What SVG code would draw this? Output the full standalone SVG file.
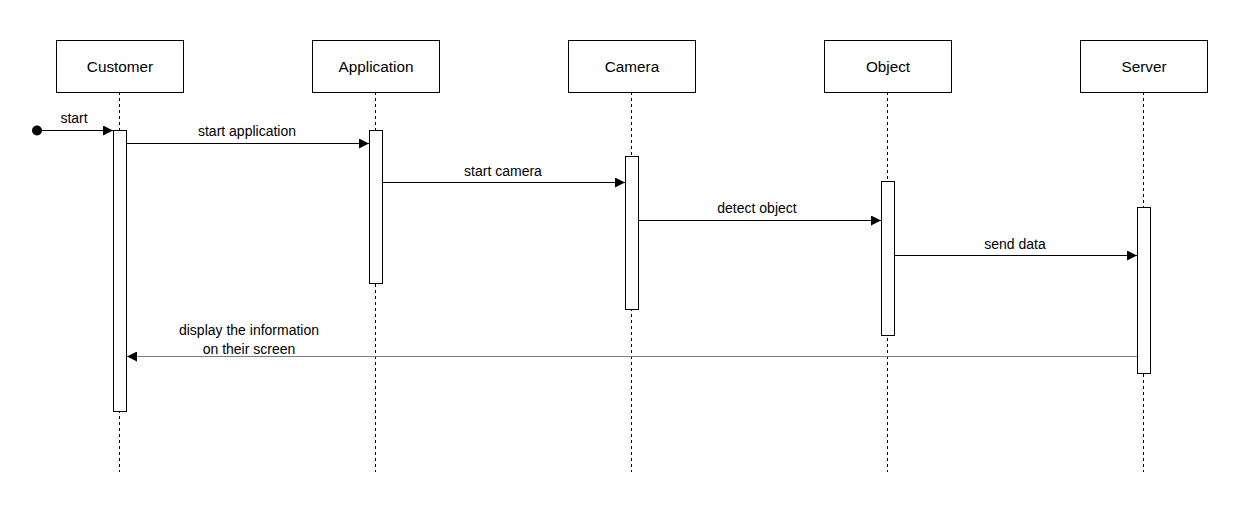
<svg xmlns="http://www.w3.org/2000/svg" width="1257" height="511" viewBox="0 0 1257 511">
  <defs>
    <style>
      .box { fill: #ffffff; stroke: #000000; stroke-width: 1; }
      .life { stroke: #000000; stroke-width: 1; stroke-dasharray: 3 3; fill: none; }
      .act { fill: #ffffff; stroke: #000000; stroke-width: 1; }
      .msg { stroke: #000000; stroke-width: 1; fill: none; marker-end: url(#arrow); }
      .ret { stroke: #808080; stroke-width: 1; fill: none; marker-end: url(#arrow); }
      text { font-family: "Liberation Sans", Arial, sans-serif; font-size: 14px; fill: #000000; text-anchor: middle; }
      text.name { font-size: 15.3px; }
    </style>
    <marker id="arrow" viewBox="0 0 10 10" refX="10" refY="5" markerWidth="10" markerHeight="10" markerUnits="userSpaceOnUse" orient="auto">
      <path d="M0,0 L10,5 L0,10 Z" fill="#000000"/>
    </marker>
  </defs>

  <!-- lifelines -->
  <g id="lifelines">
    <line class="life" x1="119.5" y1="92" x2="119.5" y2="472"/>
    <line class="life" x1="375.5" y1="92" x2="375.5" y2="472"/>
    <line class="life" x1="631.5" y1="92" x2="631.5" y2="472"/>
    <line class="life" x1="887.5" y1="92" x2="887.5" y2="472"/>
    <line class="life" x1="1143.5" y1="92" x2="1143.5" y2="472"/>
  </g>

  <!-- participants -->
  <g id="customer">
    <rect class="box" x="56.5" y="40.5" width="127" height="52"/>
    <text class="name" x="120" y="72">Customer</text>
    <rect class="act" x="113.5" y="130.5" width="13" height="281"/>
  </g>
  <g id="application">
    <rect class="box" x="312.5" y="40.5" width="127" height="52"/>
    <text class="name" x="376" y="72">Application</text>
    <rect class="act" x="369.5" y="130.5" width="13" height="153"/>
  </g>
  <g id="camera">
    <rect class="box" x="568.5" y="40.5" width="127" height="52"/>
    <text class="name" x="632" y="72">Camera</text>
    <rect class="act" x="625.5" y="156.5" width="13" height="153"/>
  </g>
  <g id="object">
    <rect class="box" x="824.5" y="40.5" width="127" height="52"/>
    <text class="name" x="888" y="72">Object</text>
    <rect class="act" x="881.5" y="181.5" width="13" height="154"/>
  </g>
  <g id="server">
    <rect class="box" x="1080.5" y="40.5" width="127" height="52"/>
    <text class="name" x="1144" y="72">Server</text>
    <rect class="act" x="1137.5" y="207.5" width="13" height="166"/>
  </g>

  <!-- messages -->
  <g id="connectors">
    <circle cx="37" cy="130.5" r="5" fill="#000000"/>
    <line class="msg" x1="37" y1="130.5" x2="113" y2="130.5"/>
    <text x="74" y="123">start</text>

    <line class="msg" x1="127" y1="143.5" x2="369" y2="143.5"/>
    <text x="247" y="136">start application</text>

    <line class="msg" x1="383" y1="182.5" x2="625" y2="182.5"/>
    <text x="503" y="176">start camera</text>

    <line class="msg" x1="639" y1="220.5" x2="881" y2="220.5"/>
    <text x="757" y="213">detect object</text>

    <line class="msg" x1="895" y1="255.5" x2="1137" y2="255.5"/>
    <text x="1015" y="249">send data</text>

    <line class="ret" x1="1137" y1="356.5" x2="127" y2="356.5"/>
    <rect x="199" y="340" width="99" height="16" fill="#ffffff"/>
    <text x="249" y="335">display the information</text>
    <text x="249" y="354">on their screen</text>
  </g>
</svg>
